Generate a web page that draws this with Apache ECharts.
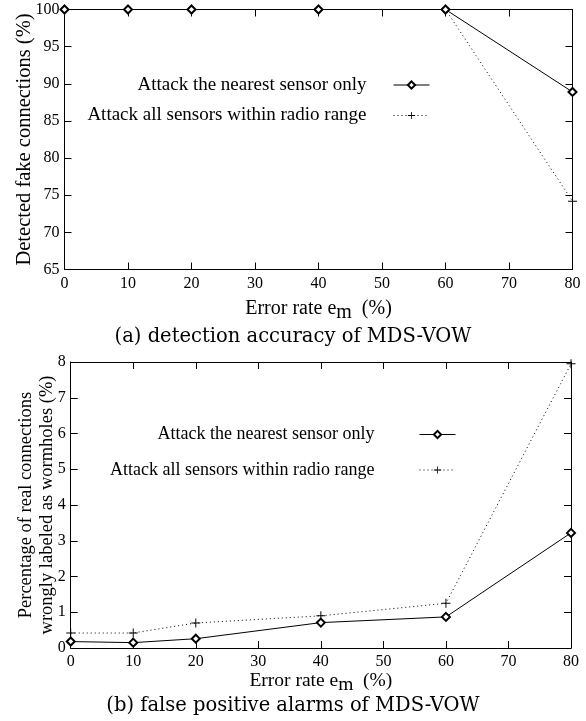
<!DOCTYPE html>
<html>
<head>
<meta charset="utf-8">
<script src="https://cdn.jsdelivr.net/npm/echarts@6/dist/echarts.min.js"></script>
<style>html,body{margin:0;padding:0;background:#fff;}#c{width:586px;height:721px;}</style>
</head>
<body>
<div id="c"></div>
<script>
const errorRates = [0, 10, 20, 40, 60, 80];
const detectNearest = [100, 100, 100, 100, 100, 88.9];
const detectAll = [100, 100, 100, 100, 100, 74.2];
const falseNearest = [0.18, 0.15, 0.26, 0.71, 0.87, 3.22];
const falseAll = [0.42, 0.42, 0.70, 0.90, 1.25, 7.95];
const seriesNames = ['Attack the nearest sensor only', 'Attack all sensors within radio range'];
const captions = ['(a) detection accuracy of MDS-VOW', '(b) false positive alarms of MDS-VOW'];
const yTitles = ['Detected fake connections (%)', 'Percentage of real connections\nwrongly labeled as wormholes (%)'];

const SERIF = '"Liberation Serif", "Times New Roman", serif';
const CAP = '"DejaVu Serif", serif';
const PLUS = 'path://M-0.55,-5H0.55V5H-0.55Z M-5,-0.55H5V0.55H-5Z';

const pairs = (xs, ys) => xs.map((x, i) => [x, ys[i]]);

const chart = echarts.init(document.getElementById('c'), null, {renderer: 'canvas'});

function xAx(grid, pos, showLabel, name, gap, fs) {
  return {
    gridIndex: grid, type: 'value', position: pos, min: 0, max: 80, interval: 10,
    axisLine: {show: true, onZero: false, lineStyle: {color: '#000', width: 1}},
    axisTick: {show: true, inside: true, length: 7, lineStyle: {color: '#000'}},
    axisLabel: {show: showLabel, color: '#000', fontFamily: SERIF, fontSize: 16, margin: 6},
    splitLine: {show: false},
    name: name || '', nameLocation: 'middle', nameGap: gap || 0,
    nameTextStyle: {color: '#000', fontFamily: SERIF, fontSize: fs || 18,
      rich: {sub: {fontFamily: SERIF, fontSize: fs || 18, color: '#000', padding: [8, 0, 0, 0]}}}
  };
}
function yAx(grid, pos, showLabel, min, max, interval, name, gap, fs, lh) {
  return {
    gridIndex: grid, type: 'value', position: pos, min: min, max: max, interval: interval,
    axisLine: {show: true, onZero: false, lineStyle: {color: '#000', width: 1}},
    axisTick: {show: true, inside: true, length: 7, lineStyle: {color: '#000'}},
    axisLabel: {show: showLabel, color: '#000', fontFamily: SERIF, fontSize: 16, margin: 5},
    splitLine: {show: false},
    name: name || '', nameLocation: 'middle', nameGap: gap || 0, nameMoveOverlap: false,
    nameTextStyle: {color: '#000', fontFamily: SERIF, fontSize: fs || 18, lineHeight: lh || 20}
  };
}

const xName = 'Error rate e{sub|m}  (%)';

function nearestSeries(name, x, y, data) {
  return {
    name: name, type: 'line', xAxisIndex: x, yAxisIndex: y, data: data,
    symbol: 'emptyDiamond', symbolSize: 8, showAllSymbol: true,
    lineStyle: {color: '#000', width: 1, type: 'solid'},
    itemStyle: {color: '#000', borderColor: '#000', borderWidth: 1},
    emphasis: {disabled: true}, z: 3, animation: false
  };
}
function allSeries(name, x, y, data) {
  return {
    name: name, type: 'line', xAxisIndex: x, yAxisIndex: y, data: data,
    symbol: PLUS, symbolSize: 9, showAllSymbol: true,
    lineStyle: {color: '#000', width: 1, type: [1, 3]},
    itemStyle: {color: '#000'},
    emphasis: {disabled: true}, z: 2, animation: false
  };
}

function legend(name, right, top, padRight, fs) {
  return {
    data: [name], right: right, top: top, orient: 'vertical', align: 'right',
    itemWidth: 36, itemHeight: 9, selectedMode: false, padding: 0,
    lineStyle: {width: 1},
    itemStyle: {borderWidth: 1},
    textStyle: {color: '#000', fontFamily: SERIF, fontSize: fs, padding: [0, padRight, 0, 0]}
  };
}

chart.setOption({
  animation: false,
  backgroundColor: '#fff',
  title: [
    {text: captions[0], left: 'center', top: 327, padding: 0,
     textStyle: {fontFamily: CAP, fontSize: 19.5, fontWeight: 'normal', color: '#000'}},
    {text: captions[1], left: 'center', top: 696, padding: 0,
     textStyle: {fontFamily: CAP, fontSize: 19.5, fontWeight: 'normal', color: '#000'}}
  ],
  grid: [
    {left: 64.5, right: 13.5, top: 9.5, height: 260, containLabel: false},
    {left: 70.7, right: 15, top: 362, height: 286, containLabel: false}
  ],
  legend: [
    legend(seriesNames[0], 156, 75.5, 22, 19),
    legend(seriesNames[1], 156, 106, 22, 19),
    legend(seriesNames[0], 130, 425.5, 40, 18),
    legend(seriesNames[1], 130, 461, 40, 18)
  ],
  xAxis: [
    xAx(0, 'bottom', true, xName, 25, 20),
    xAx(0, 'top', false),
    xAx(1, 'bottom', true, xName, 12, 19.5),
    xAx(1, 'top', false)
  ],
  yAxis: [
    yAx(0, 'left', true, 65, 100, 5, yTitles[0], 30, 20.5),
    yAx(0, 'right', false, 65, 100, 5),
    yAx(1, 'left', true, 0, 8, 1, yTitles[1], 13, 18.5, 21),
    yAx(1, 'right', false, 0, 8, 1)
  ],
  series: [
    nearestSeries(seriesNames[0], 0, 0, pairs(errorRates, detectNearest)),
    allSeries(seriesNames[1], 0, 0, pairs(errorRates, detectAll)),
    nearestSeries(seriesNames[0], 2, 2, pairs(errorRates, falseNearest)),
    allSeries(seriesNames[1], 2, 2, pairs(errorRates, falseAll))
  ]
});
</script>
</body>
</html>
